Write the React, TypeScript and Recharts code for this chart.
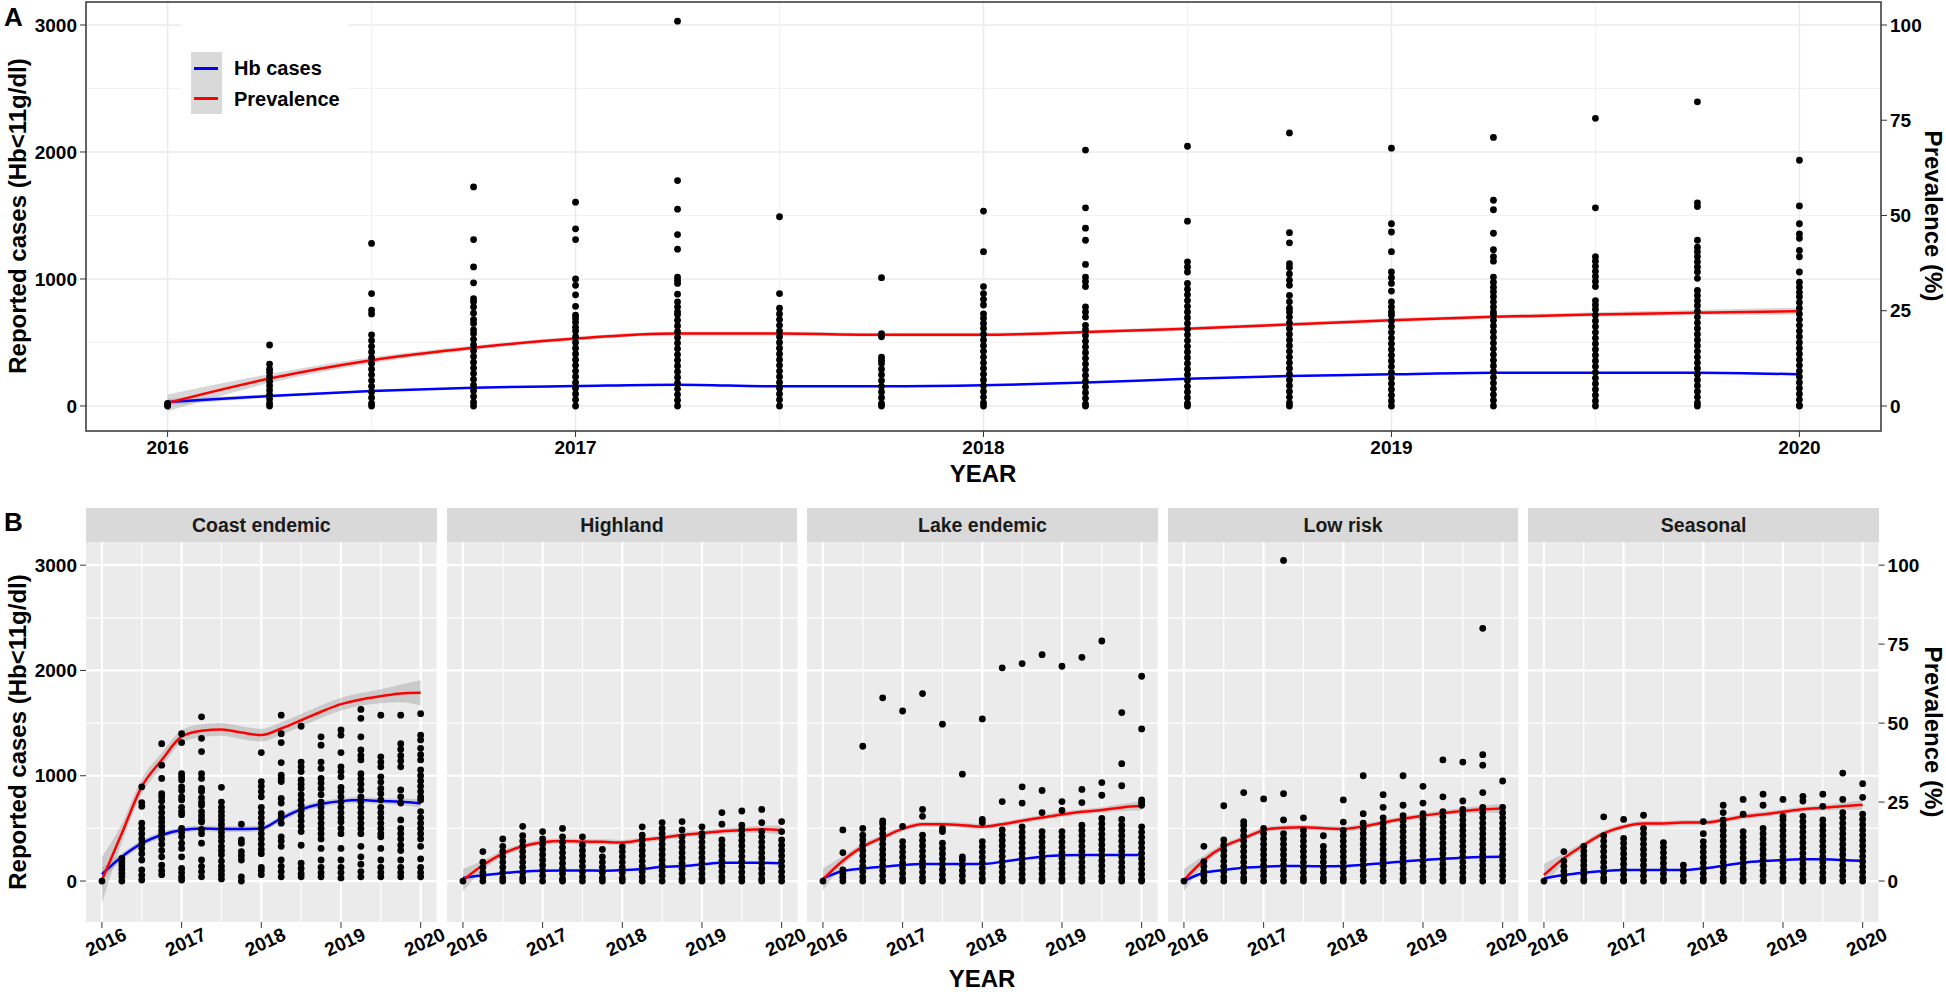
import React from "react"
import { ComposedChart, Scatter, Line, Area, XAxis, YAxis, CartesianGrid, ReferenceArea } from "recharts"

const FONT = "'Liberation Sans', Arial, Helvetica, sans-serif"

// time axis: quarterly observations 2016 - 2020
const QUARTERS = [2016, 2016.25, 2016.5, 2016.75, 2017, 2017.25, 2017.5, 2017.75, 2018, 2018.25, 2018.5, 2018.75, 2019, 2019.25, 2019.5, 2019.75, 2020]
const YEAR_TICKS = [2016, 2017, 2018, 2019, 2020]
const HALF_YEARS = [2016.5, 2017.5, 2018.5, 2019.5]
const CASE_TICKS = [0, 1000, 2000, 3000]
const CASE_MINOR = [500, 1500, 2500]
const PREV_TICKS = [0, 25, 50, 75, 100]
const FACETS = ["Coast endemic", "Highland", "Lake endemic", "Low risk", "Seasonal"]

// ---------- panel A ----------
const A_HB = [31, 79, 118, 144, 157, 168, 155, 155, 163, 184, 215, 236, 249, 262, 262, 262, 249]
const A_HB_SE = [25, 12, 8, 6, 6, 6, 6, 6, 6, 6, 6, 6, 6, 6, 6, 7, 10]
const A_PREV = [0.8, 7.2, 12.0, 15.3, 17.7, 19.0, 19.0, 18.7, 18.7, 19.4, 20.3, 21.4, 22.5, 23.4, 24.0, 24.5, 24.9]
const A_PREV_SE = [2.2, 1.2, 0.8, 0.6, 0.5, 0.5, 0.5, 0.5, 0.5, 0.5, 0.5, 0.5, 0.5, 0.5, 0.6, 0.7, 0.9]
const A_POINTS = [
  [20, 10, 0],
  [480, 330, 290, 265, 230, 195, 160, 125, 90, 55, 20, 0],
  [1280, 885, 755, 725, 560, 515, 470, 425, 380, 335, 290, 245, 200, 155, 110, 65, 20, 0],
  [1725, 1310, 1095, 970, 845, 820, 780, 730, 680, 650, 600, 570, 525, 480, 435, 390, 345, 300, 255, 210, 165, 120, 75, 30, 0],
  [1605, 1395, 1310, 1000, 950, 875, 785, 715, 690, 660, 620, 590, 545, 500, 455, 410, 365, 320, 275, 230, 185, 140, 95, 50, 0],
  [3030, 1775, 1550, 1350, 1235, 1015, 990, 965, 880, 820, 780, 740, 720, 675, 630, 585, 540, 495, 450, 405, 360, 315, 270, 225, 180, 135, 90, 45, 0],
  [1490, 885, 770, 725, 680, 635, 590, 545, 500, 455, 410, 365, 320, 275, 230, 185, 140, 95, 50, 0],
  [1010, 570, 545, 385, 360, 335, 290, 245, 200, 155, 110, 65, 20, 0],
  [1535, 1215, 940, 885, 840, 795, 725, 690, 650, 610, 565, 520, 475, 430, 385, 340, 295, 250, 205, 160, 115, 70, 25, 0],
  [2015, 1560, 1400, 1305, 1115, 1015, 980, 940, 780, 740, 700, 635, 600, 555, 510, 465, 420, 375, 330, 285, 240, 195, 150, 105, 60, 15, 0],
  [2045, 1455, 1135, 1095, 1055, 965, 920, 875, 830, 785, 740, 695, 650, 605, 560, 515, 470, 425, 380, 335, 290, 245, 200, 155, 110, 65, 20, 0],
  [2150, 1365, 1285, 1120, 1090, 1040, 990, 950, 870, 820, 770, 740, 700, 655, 610, 565, 520, 475, 430, 385, 340, 295, 250, 205, 160, 115, 70, 25, 0],
  [2030, 1435, 1370, 1215, 1055, 1010, 965, 905, 820, 780, 740, 715, 670, 625, 580, 535, 490, 445, 400, 355, 310, 265, 220, 175, 130, 85, 40, 0],
  [2115, 1620, 1545, 1360, 1230, 1175, 1140, 1015, 975, 935, 900, 860, 820, 780, 740, 720, 675, 630, 585, 540, 495, 450, 405, 360, 315, 270, 225, 180, 135, 90, 45, 0],
  [2265, 1560, 1175, 1140, 1100, 1060, 1020, 980, 940, 830, 795, 760, 715, 670, 625, 580, 535, 490, 445, 400, 355, 310, 265, 220, 175, 130, 85, 40, 0],
  [2395, 1600, 1570, 1305, 1250, 1215, 1175, 1135, 1095, 1055, 1005, 910, 870, 830, 790, 745, 700, 655, 610, 565, 520, 475, 430, 385, 340, 295, 250, 205, 160, 115, 70, 25, 0],
  [1935, 1575, 1435, 1355, 1320, 1225, 1175, 1055, 975, 935, 895, 860, 815, 770, 725, 680, 635, 590, 545, 500, 455, 410, 365, 320, 275, 230, 185, 140, 95, 50, 5, 0],
]

// ---------- panel B ----------
const COAST_HB = [65, 231, 358, 437, 484, 500, 494, 494, 500, 595, 680, 731, 759, 769, 759, 753, 737]
const COAST_HB_SE = [60, 35, 30, 28, 28, 28, 28, 28, 28, 28, 28, 28, 28, 28, 28, 30, 40]
const COAST_PREV = [0.3, 15.1, 29.9, 38.3, 45.7, 47.6, 48.0, 47.0, 46.2, 48.3, 50.9, 53.6, 56.0, 57.5, 58.5, 59.4, 59.6]
const COAST_PREV_SE = [7.3, 3.0, 2.5, 2.2, 2.0, 2.0, 2.0, 2.0, 2.0, 2.0, 2.0, 2.0, 2.0, 2.0, 2.2, 2.8, 4.0]
const COAST_POINTS = [
  [0],
  [215, 180, 145, 110, 75, 40, 0],
  [895, 745, 710, 550, 500, 450, 400, 355, 310, 260, 200, 105, 55, 10],
  [1305, 1100, 975, 830, 800, 760, 700, 650, 600, 560, 520, 480, 450, 400, 350, 290, 230, 150, 100, 60],
  [1400, 1315, 1020, 990, 960, 895, 860, 800, 770, 700, 660, 630, 500, 460, 420, 360, 310, 230, 120, 80, 40, 10],
  [1560, 1355, 1230, 1020, 975, 880, 850, 790, 750, 720, 660, 620, 580, 560, 490, 450, 360, 200, 140, 90, 40],
  [890, 750, 700, 660, 620, 580, 540, 500, 460, 420, 380, 330, 290, 250, 190, 140, 100, 60, 20],
  [540, 390, 360, 280, 240, 200, 40, 0],
  [1220, 945, 900, 850, 800, 700, 650, 600, 550, 500, 450, 400, 350, 300, 260, 130, 100, 60],
  [1575, 1400, 1315, 1125, 1005, 975, 945, 785, 740, 640, 600, 550, 420, 380, 330, 200, 140, 90, 40],
  [1470, 1130, 1085, 1040, 960, 920, 880, 820, 770, 720, 670, 620, 570, 520, 470, 340, 170, 120, 70, 40],
  [1370, 1290, 1130, 1070, 975, 930, 880, 820, 750, 700, 650, 600, 550, 500, 450, 400, 310, 200, 130, 80, 40],
  [1435, 1385, 1220, 1085, 1040, 990, 890, 850, 800, 750, 700, 650, 600, 560, 500, 450, 310, 200, 130, 80, 30],
  [1630, 1545, 1370, 1245, 1190, 1150, 1020, 970, 920, 865, 800, 750, 700, 650, 600, 550, 500, 450, 330, 230, 160, 90, 40],
  [1575, 1180, 1130, 1085, 990, 940, 880, 830, 770, 700, 650, 600, 550, 500, 450, 420, 310, 200, 130, 80, 40],
  [1575, 1305, 1250, 1190, 1140, 1085, 865, 800, 740, 580, 500, 450, 400, 340, 290, 200, 130, 80, 40],
  [1590, 1385, 1340, 1260, 1200, 1150, 1055, 1000, 950, 900, 850, 800, 770, 660, 600, 550, 500, 450, 400, 330, 210, 130, 80, 40],
]

const HIGHLAND_HB = [30, 55, 75, 90, 98, 100, 100, 98, 104, 114, 136, 142, 158, 174, 174, 174, 168]
const HIGHLAND_PREV = [0.3, 5.0, 8.7, 11.0, 12.3, 12.7, 12.5, 12.4, 12.2, 13.0, 13.7, 14.6, 15.1, 15.8, 16.1, 16.4, 16.1]
const HIGHLAND_POINTS = [
  [0],
  [280, 180, 130, 80, 40, 0],
  [400, 330, 280, 230, 180, 130, 80, 30, 0],
  [520, 430, 380, 330, 280, 230, 180, 130, 80, 30, 0],
  [470, 400, 350, 300, 250, 200, 150, 100, 50, 0],
  [500, 420, 370, 320, 270, 220, 170, 120, 70, 20, 0],
  [420, 340, 290, 240, 190, 140, 90, 40, 0],
  [300, 230, 180, 130, 80, 30, 0],
  [325, 280, 230, 180, 130, 80, 30, 0],
  [515, 435, 390, 340, 290, 240, 190, 140, 90, 40, 0],
  [555, 500, 450, 400, 350, 300, 250, 200, 150, 100, 50, 0],
  [565, 485, 420, 370, 320, 270, 220, 170, 120, 70, 20, 0],
  [515, 450, 420, 370, 320, 270, 220, 170, 120, 70, 20, 0],
  [650, 540, 390, 340, 290, 240, 190, 140, 90, 40, 0],
  [665, 530, 485, 435, 385, 335, 285, 235, 185, 135, 85, 35, 0],
  [680, 555, 470, 420, 370, 320, 270, 220, 170, 120, 70, 20, 0],
  [565, 470, 390, 340, 290, 240, 190, 140, 90, 40, 0],
]

const LAKE_HB = [25, 95, 120, 136, 152, 161, 161, 161, 161, 184, 209, 231, 244, 247, 247, 247, 247]
const LAKE_PREV = [0.5, 6.4, 10.9, 13.8, 16.5, 18.0, 18.0, 17.7, 17.2, 18.0, 19.1, 20.1, 21.1, 21.9, 22.5, 23.3, 23.8]
const LAKE_POINTS = [
  [0],
  [485, 270, 105, 70, 35, 0],
  [1280, 500, 435, 390, 340, 290, 240, 190, 140, 90, 40, 0],
  [1740, 570, 545, 500, 450, 400, 350, 300, 250, 200, 150, 100, 50, 0],
  [1615, 520, 375, 325, 275, 225, 175, 125, 75, 25, 0],
  [1780, 680, 615, 435, 385, 335, 285, 235, 185, 135, 85, 35, 0],
  [1490, 500, 470, 360, 310, 260, 210, 160, 110, 60, 10, 0],
  [1015, 230, 200, 150, 100, 50, 0],
  [1540, 585, 555, 375, 325, 275, 225, 175, 125, 75, 25, 0],
  [2025, 755, 485, 435, 385, 335, 285, 235, 185, 135, 85, 35, 0],
  [2065, 895, 740, 515, 465, 415, 365, 315, 265, 215, 165, 115, 65, 15, 0],
  [2150, 860, 650, 470, 420, 370, 320, 270, 220, 170, 120, 70, 20, 0],
  [2040, 755, 670, 470, 420, 370, 320, 270, 220, 170, 120, 70, 20, 0],
  [2125, 870, 745, 530, 480, 430, 380, 330, 280, 230, 180, 130, 80, 30, 0],
  [2280, 935, 815, 595, 545, 495, 445, 395, 345, 295, 245, 195, 145, 95, 45, 0],
  [1600, 1115, 905, 585, 530, 480, 430, 380, 330, 280, 230, 180, 130, 80, 30, 0],
  [1945, 1445, 770, 745, 720, 515, 465, 415, 365, 315, 265, 215, 165, 115, 65, 15, 0],
]

const LOWRISK_HB = [0, 79, 104, 127, 136, 142, 142, 140, 142, 155, 170, 185, 200, 212, 222, 228, 230]
const LOWRISK_PREV = [0.3, 6.6, 10.9, 13.5, 16.1, 16.9, 17.0, 16.7, 16.5, 17.3, 18.5, 19.7, 20.7, 21.5, 22.2, 22.7, 23.0]
const LOWRISK_POINTS = [
  [0],
  [330, 185, 140, 95, 50, 5, 0],
  [715, 390, 340, 290, 240, 190, 140, 90, 40, 0],
  [840, 565, 530, 480, 430, 380, 330, 280, 230, 180, 130, 80, 30, 0],
  [780, 500, 450, 400, 350, 300, 250, 200, 150, 100, 50, 0],
  [3045, 830, 580, 450, 400, 350, 300, 250, 200, 150, 100, 50, 0],
  [600, 480, 430, 380, 330, 280, 230, 180, 130, 80, 30, 0],
  [430, 330, 280, 230, 180, 130, 80, 30, 0],
  [770, 560, 480, 430, 380, 330, 280, 230, 180, 130, 80, 30, 0],
  [1000, 640, 550, 500, 450, 400, 350, 300, 250, 200, 150, 100, 50, 0],
  [820, 700, 600, 550, 500, 450, 400, 350, 300, 250, 200, 150, 100, 50, 0],
  [1000, 720, 620, 570, 520, 470, 420, 370, 320, 270, 220, 170, 120, 70, 20, 0],
  [900, 740, 640, 590, 540, 490, 440, 390, 340, 290, 240, 190, 140, 90, 40, 0],
  [1150, 800, 660, 610, 560, 510, 460, 410, 360, 310, 260, 210, 160, 110, 60, 10, 0],
  [1130, 760, 680, 630, 580, 530, 480, 430, 380, 330, 280, 230, 180, 130, 80, 30, 0],
  [2400, 1200, 1100, 840, 700, 650, 600, 550, 500, 450, 400, 350, 300, 250, 200, 150, 100, 50, 0],
  [950, 700, 650, 600, 550, 500, 450, 400, 350, 300, 250, 200, 150, 100, 50, 0],
]

const SEASONAL_HB = [25, 57, 79, 95, 104, 104, 104, 104, 120, 146, 174, 190, 199, 206, 206, 199, 193]
const SEASONAL_PREV = [1.9, 7.2, 11.4, 15.1, 17.2, 18.2, 18.2, 18.5, 18.5, 19.3, 20.4, 21.1, 21.9, 22.7, 23.2, 23.7, 24.1]
const SEASONAL_POINTS = [
  [0],
  [280, 190, 140, 95, 50, 5, 0],
  [330, 285, 240, 195, 150, 105, 60, 15, 0],
  [610, 430, 380, 330, 280, 230, 180, 130, 80, 30, 0],
  [585, 405, 360, 310, 260, 210, 160, 110, 60, 10, 0],
  [625, 500, 450, 400, 350, 300, 250, 200, 150, 100, 50, 0],
  [365, 320, 270, 220, 170, 120, 70, 20, 0],
  [150, 100, 50, 0],
  [565, 450, 375, 325, 275, 225, 175, 125, 75, 25, 0],
  [720, 650, 580, 530, 480, 430, 380, 330, 280, 230, 180, 130, 80, 30, 0],
  [775, 635, 470, 420, 370, 320, 270, 220, 170, 120, 70, 20, 0],
  [825, 720, 500, 450, 400, 350, 300, 250, 200, 150, 100, 50, 0],
  [775, 615, 580, 530, 480, 430, 380, 330, 280, 230, 180, 130, 80, 30, 0],
  [805, 760, 615, 565, 515, 465, 415, 365, 315, 265, 215, 165, 115, 65, 15, 0],
  [825, 710, 580, 530, 480, 430, 380, 330, 280, 230, 180, 130, 80, 30, 0],
  [1025, 775, 650, 600, 550, 500, 450, 400, 350, 300, 250, 200, 150, 100, 50, 0],
  [925, 795, 635, 585, 535, 485, 435, 385, 335, 285, 235, 185, 135, 85, 35, 0],
]

// standard-error half widths shared by the smaller regions
const BAND_HB_SE = [15, 10, 8, 7, 7, 7, 7, 7, 7, 7, 7, 7, 7, 7, 8, 9, 12]
const BAND_PREV_SE = [3.5, 1.5, 1.0, 0.9, 0.8, 0.8, 0.8, 0.8, 0.8, 0.8, 0.8, 0.8, 0.8, 0.8, 0.9, 1.1, 1.5]

// layout (px)
const X_DOMAIN = [2015.8, 2020.2]
const A_CASE_DOMAIN = [-197, 3181]
const B_CASE_DOMAIN = [-389, 3220]
const PREV_PER_CASE = 100 / 3000
const FACET_LEFT = 86
const FACET_W = 350.6
const FACET_GAP = 10
const STRIP_TOP = 508
const FACET_TOP = 542
const FACET_H = 380

const tickText = { fill: "#000", fontSize: 19, fontWeight: 700, fontFamily: FONT }

function curveRows(hb: number[], hbSe: number[], prev: number[], prevSe: number[]) {
  return QUARTERS.map((x, i) => ({
    x,
    hb: hb[i],
    hbBand: [hb[i] - hbSe[i], hb[i] + hbSe[i]],
    prev: prev[i],
    prevBand: [prev[i] - prevSe[i], prev[i] + prevSe[i]],
  }))
}

function pointRows(cols: number[][]) {
  return cols.flatMap((col, i) => col.map((y) => ({ x: QUARTERS[i], y })))
}

const Dot = (p: any) => <circle cx={p.cx} cy={p.cy} r={3.4} fill="#000" />

function SlantTick(p: any) {
  const cx = p.x + 4
  const cy = p.y + 14
  return (
    <text x={cx} y={cy} transform={`rotate(-25 ${cx} ${cy})`} textAnchor="middle" dominantBaseline="central" {...tickText}>
      {p.payload.value}
    </text>
  )
}

function smoothLayers() {
  return [
    <Area key="hbBand" yAxisId="l" dataKey="hbBand" type="monotone" stroke="none" fill="#999999" fillOpacity={0.4} isAnimationActive={false} />,
    <Area key="prevBand" yAxisId="r" dataKey="prevBand" type="monotone" stroke="none" fill="#999999" fillOpacity={0.4} isAnimationActive={false} />,
    <Line key="hb" yAxisId="l" dataKey="hb" type="monotone" stroke="#0000FF" strokeWidth={2.5} dot={false} isAnimationActive={false} />,
    <Line key="prev" yAxisId="r" dataKey="prev" type="monotone" stroke="#FF0000" strokeWidth={2.5} dot={false} isAnimationActive={false} />,
  ]
}

function PanelA() {
  const rows = curveRows(A_HB, A_HB_SE, A_PREV, A_PREV_SE)
  const pts = pointRows(A_POINTS)
  return (
    <div style={{ position: "absolute", left: 0, top: 0 }}>
      <ComposedChart width={1946} height={500} data={rows} margin={{ top: 2, right: 0, bottom: 0, left: 0 }}>
        <CartesianGrid yAxisId="l" verticalValues={HALF_YEARS} horizontalValues={CASE_MINOR} stroke="#F2F2F2" strokeWidth={1} />
        <CartesianGrid yAxisId="l" verticalValues={YEAR_TICKS} horizontalValues={CASE_TICKS} stroke="#EBEBEB" strokeWidth={1.6} />
        <XAxis dataKey="x" type="number" domain={X_DOMAIN} ticks={YEAR_TICKS} interval={0} allowDataOverflow axisLine={false} tickLine={{ stroke: "#333" }} tickSize={6} tickMargin={4} height={69} tick={tickText} />
        <YAxis yAxisId="l" type="number" domain={A_CASE_DOMAIN} ticks={CASE_TICKS} interval={0} allowDataOverflow axisLine={false} tickLine={{ stroke: "#333" }} tickSize={6} tickMargin={3} width={86} tick={tickText} />
        <YAxis yAxisId="r" orientation="right" type="number" domain={A_CASE_DOMAIN.map((v) => v * PREV_PER_CASE)} ticks={PREV_TICKS} interval={0} allowDataOverflow axisLine={false} tickLine={{ stroke: "#333" }} tickSize={6} tickMargin={3} width={65} tick={tickText} />
        <Scatter yAxisId="l" data={pts} dataKey="y" shape={Dot} isAnimationActive={false} />
        {smoothLayers()}
        <ReferenceArea yAxisId="l" x1={X_DOMAIN[0]} x2={X_DOMAIN[1]} y1={A_CASE_DOMAIN[0]} y2={A_CASE_DOMAIN[1]} fill="none" stroke="#333" strokeWidth={1.5} ifOverflow="visible" />
      </ComposedChart>
    </div>
  )
}

function Facet({ index, title, hb, hbSe, prev, prevSe, points }: any) {
  const left = FACET_LEFT + index * (FACET_W + FACET_GAP)
  const showLeft = index === 0
  const showRight = index === FACETS.length - 1
  const lw = showLeft ? 86 : 0
  const rw = showRight ? 65 : 0
  const rows = curveRows(hb, hbSe, prev, prevSe)
  const pts = pointRows(points)
  return (
    <>
      <div style={{ position: "absolute", left, top: STRIP_TOP, width: FACET_W, height: FACET_TOP - STRIP_TOP, background: "#D9D9D9", display: "flex", alignItems: "center", justifyContent: "center", fontSize: 19.5, fontWeight: 700, color: "#1A1A1A" }}>
        {title}
      </div>
      <div style={{ position: "absolute", left: left - lw, top: FACET_TOP }}>
        <ComposedChart width={lw + FACET_W + rw} height={FACET_H + 50} data={rows} margin={{ top: 0, right: 0, bottom: 0, left: 0 }}>
          <CartesianGrid yAxisId="l" fill="#EBEBEB" verticalValues={HALF_YEARS} horizontalValues={CASE_MINOR} stroke="#FFFFFF" strokeWidth={1.2} />
          <CartesianGrid yAxisId="l" verticalValues={YEAR_TICKS} horizontalValues={CASE_TICKS} stroke="#FFFFFF" strokeWidth={2.2} />
          <XAxis dataKey="x" type="number" domain={X_DOMAIN} ticks={YEAR_TICKS} interval={0} allowDataOverflow axisLine={false} tickLine={{ stroke: "#333" }} tickSize={6} tickMargin={0} height={50} tick={<SlantTick />} />
          <YAxis yAxisId="l" hide={!showLeft} type="number" domain={B_CASE_DOMAIN} ticks={CASE_TICKS} interval={0} allowDataOverflow axisLine={false} tickLine={{ stroke: "#333" }} tickSize={6} tickMargin={3} width={lw} tick={tickText} />
          <YAxis yAxisId="r" hide={!showRight} orientation="right" type="number" domain={B_CASE_DOMAIN.map((v) => v * PREV_PER_CASE)} ticks={PREV_TICKS} interval={0} allowDataOverflow axisLine={false} tickLine={{ stroke: "#333" }} tickSize={6} tickMargin={3} width={rw} tick={tickText} />
          <Scatter yAxisId="l" data={pts} dataKey="y" shape={Dot} isAnimationActive={false} />
          {smoothLayers()}
        </ComposedChart>
      </div>
    </>
  )
}

const titleStyle: React.CSSProperties = { position: "absolute", fontSize: 24, fontWeight: 700, color: "#000", whiteSpace: "nowrap", lineHeight: 1 }

function VTitle({ text, x, y, angle }: { text: string; x: number; y: number; angle: number }) {
  return <div style={{ ...titleStyle, left: x, top: y, transform: `translate(-50%, -50%) rotate(${angle}deg)` }}>{text}</div>
}

export default function App() {
  const facets = [
    { hb: COAST_HB, hbSe: COAST_HB_SE, prev: COAST_PREV, prevSe: COAST_PREV_SE, points: COAST_POINTS },
    { hb: HIGHLAND_HB, hbSe: BAND_HB_SE, prev: HIGHLAND_PREV, prevSe: BAND_PREV_SE, points: HIGHLAND_POINTS },
    { hb: LAKE_HB, hbSe: BAND_HB_SE, prev: LAKE_PREV, prevSe: BAND_PREV_SE, points: LAKE_POINTS },
    { hb: LOWRISK_HB, hbSe: BAND_HB_SE, prev: LOWRISK_PREV, prevSe: BAND_PREV_SE, points: LOWRISK_POINTS },
    { hb: SEASONAL_HB, hbSe: BAND_HB_SE, prev: SEASONAL_PREV, prevSe: BAND_PREV_SE, points: SEASONAL_POINTS },
  ]
  return (
    <div style={{ position: "absolute", left: 0, top: 0, width: 1946, height: 992, background: "#fff", fontFamily: FONT, overflow: "hidden" }}>
      <style>{"svg.recharts-surface { overflow: visible; }"}</style>
      <PanelA />
      {/* legend of panel A */}
      <div style={{ position: "absolute", left: 181, top: 18, width: 167, height: 108, background: "#fff" }} />
      <div style={{ position: "absolute", left: 191, top: 52, width: 31, height: 62, background: "#D9D9D9" }} />
      <div style={{ position: "absolute", left: 194, top: 67, width: 24, height: 2.5, background: "#0000FF" }} />
      <div style={{ position: "absolute", left: 194, top: 97, width: 24, height: 2.5, background: "#FF0000" }} />
      <div style={{ ...titleStyle, fontSize: 20, left: 234, top: 58 }}>Hb cases</div>
      <div style={{ ...titleStyle, fontSize: 20, left: 234, top: 89 }}>Prevalence</div>

      <div style={{ ...titleStyle, fontSize: 26, left: 4, top: 4 }}>A</div>
      <VTitle text="Reported cases (Hb<11g/dl)" x={18} y={216} angle={-90} />
      <VTitle text="Prevalence (%)" x={1933} y={216} angle={90} />
      <div style={{ ...titleStyle, left: 983, top: 474, transform: "translate(-50%, -50%)" }}>YEAR</div>

      <div style={{ ...titleStyle, fontSize: 26, left: 4, top: 509 }}>B</div>
      {FACETS.map((title, i) => (
        <Facet key={title} index={i} title={title} {...facets[i]} />
      ))}
      <VTitle text="Reported cases (Hb<11g/dl)" x={18} y={732} angle={-90} />
      <VTitle text="Prevalence (%)" x={1933} y={732} angle={90} />
      <div style={{ ...titleStyle, left: 982, top: 979, transform: "translate(-50%, -50%)" }}>YEAR</div>
    </div>
  )
}
